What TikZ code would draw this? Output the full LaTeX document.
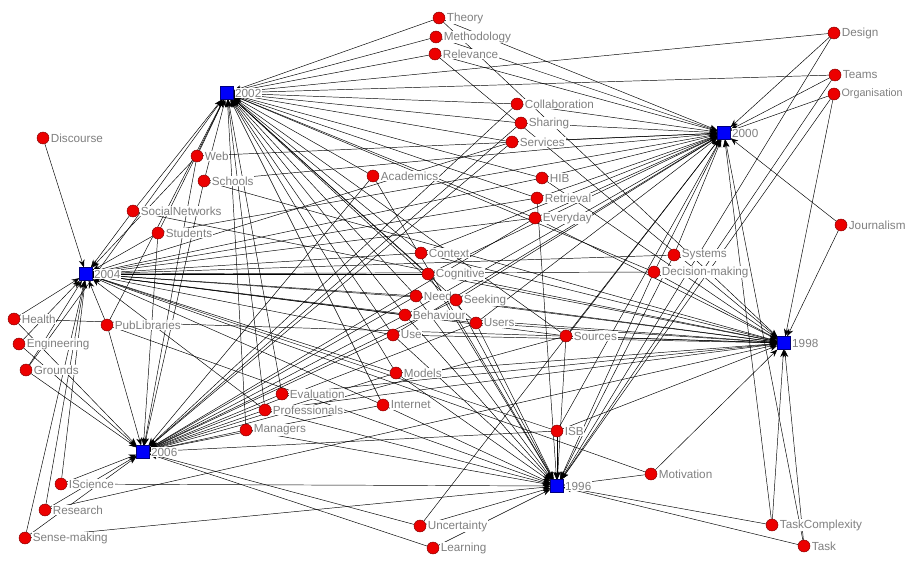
\documentclass[tikz,border=0pt]{standalone}
\usepackage{fontspec}
\setmainfont{Liberation Sans}
\usetikzlibrary{arrows.meta,backgrounds}
\definecolor{topicred}{RGB}{236,0,0}
\definecolor{yearblue}{RGB}{0,0,250}
\definecolor{labelgray}{RGB}{128,128,128}

\begin{document}
\begin{tikzpicture}[x=0.03cm,y=-0.03cm,>={Stealth[length=2.3mm,width=1.7mm]},
  topic/.style={circle,fill=topicred,draw=topicred!55!black,line width=0.4pt,inner sep=0pt,minimum size=0.36cm},
  year/.style={rectangle,fill=yearblue,draw=yearblue!50!black,line width=0.4pt,inner sep=0pt,minimum size=0.38cm},
  every label/.style={text=labelgray,fill=white,font=\fontsize{10}{11}\selectfont,inner sep=0.6pt},
  label distance=0.6pt]
  \useasboundingbox (0,0) rectangle (906,564);

  % years
  \node[year,label=right:2002] (y2002) at (227,93) {};
  \node[year,label=right:2000] (y2000) at (724,133) {};
  \node[year,label=right:2004] (y2004) at (86,274) {};
  \node[year,label=right:1998] (y1998) at (784,343) {};
  \node[year,label=right:2006] (y2006) at (143,452) {};
  \node[year,label=right:1996] (y1996) at (557,486) {};

  % topics
  \node[topic,label=right:Theory] (theory) at (439,18) {};
  \node[topic,label=right:Methodology] (method) at (436,37) {};
  \node[topic,label=right:Relevance] (relevance) at (435,54) {};
  \node[topic,label=right:Design] (design) at (834,33) {};
  \node[topic,label=right:Teams] (teams) at (835,75) {};
  \node[topic,label={[font=\fontsize{9.2}{11}\selectfont,inner sep=0.3pt]right:Organisation}] (organisation) at (834,94) {};
  \node[topic,label=right:Collaboration] (collab) at (517,104) {};
  \node[topic,label=right:Sharing] (sharing) at (521,123) {};
  \node[topic,label=right:Services] (services) at (512,142) {};
  \node[topic,label=right:Discourse] (discourse) at (43,138) {};
  \node[topic,label=right:Web] (web) at (197,156) {};
  \node[topic,label=right:Schools] (schools) at (204,181) {};
  \node[topic,label=right:Academics] (academics) at (373,176) {};
  \node[topic,label=right:HIB] (hib) at (542,178) {};
  \node[topic,label=right:Retrieval] (retrieval) at (537,198) {};
  \node[topic,label=right:Everyday] (everyday) at (535,218) {};
  \node[topic,label=right:SocialNetworks] (social) at (133,211) {};
  \node[topic,label=right:Students] (students) at (158,233) {};
  \node[topic,label=right:Journalism] (journalism) at (841,225) {};
  \node[topic,label=right:Context] (context) at (421,253) {};
  \node[topic,label=right:Systems] (systems) at (674,255) {};
  \node[topic,label=right:Cognitive] (cognitive) at (428,274) {};
  \node[topic,label=right:Decision-making] (decision) at (654,272) {};
  \node[topic,label=right:Needs] (needs) at (416,296) {};
  \node[topic,label=right:Seeking] (seeking) at (456,300) {};
  \node[topic,label=right:Behaviour] (behaviour) at (405,315) {};
  \node[topic,label=right:Users] (users) at (476,323) {};
  \node[topic,label=right:Health] (health) at (14,319) {};
  \node[topic,label=right:PubLibraries] (publib) at (107,325) {};
  \node[topic,label=right:Use] (use) at (393,335) {};
  \node[topic,label=right:Sources] (sources) at (566,336) {};
  \node[topic,label=right:Engineering] (engineering) at (19,344) {};
  \node[topic,label=right:Grounds] (grounds) at (26,370) {};
  \node[topic,label=right:Models] (models) at (396,373) {};
  \node[topic,label=right:Evaluation] (evaluation) at (282,394) {};
  \node[topic,label=right:Internet] (internet) at (383,405) {};
  \node[topic,label=right:Professionals] (professionals) at (265,410) {};
  \node[topic,label=right:ISB] (isb) at (557,431) {};
  \node[topic,label=right:Managers] (managers) at (246,430) {};
  \node[topic,label=right:Motivation] (motivation) at (651,474) {};
  \node[topic,label=right:IScience] (iscience) at (61,484) {};
  \node[topic,label=right:Research] (research) at (45,510) {};
  \node[topic,label=right:TaskComplexity] (taskcomplex) at (772,525) {};
  \node[topic,label=right:Uncertainty] (uncertainty) at (420,526) {};
  \node[topic,label=right:Sense-making] (sensemaking) at (25,538) {};
  \node[topic,label=right:Learning] (learning) at (433,548) {};
  \node[topic,label=right:Task] (task) at (804,546) {};

  % ties from each topic to the years it appears in
  \begin{scope}[on background layer,line width=0.45pt]
  \foreach \t/\ys in {
      theory/{y2002,y2000,y1998}, method/{y2002,y2000}, relevance/{y2002,y2000,y1998},
      design/{y2002,y2000,y1996}, teams/{y2002,y2000,y1996}, organisation/{y2000,y1996,y1998},
      collab/{y2002,y2000,y2006}, sharing/{y2002,y2000,y2006}, services/{y2002,y2000,y2004,y2006},
      discourse/{y2004}, web/{y2002,y2004,y2000,y2006}, schools/{y2002,y2006,y2000,y1998},
      academics/{y2002,y1996,y2006}, hib/{y2002,y2000,y2004,y1998}, retrieval/{y2002,y2000,y2004,y1996},
      everyday/{y2002,y2000,y2004,y1998,y2006}, social/{y2004,y2002,y1998}, students/{y2004,y2002,y2006,y2000},
      journalism/{y2000,y1998}, context/{y2002,y2004,y2000,y1998}, systems/{y2004,y2000,y1996},
      cognitive/{y2002,y2004,y2000,y1998,y1996}, decision/{y2002,y2004,y2000,y1996,y1998},
      needs/{y2002,y2004,y1998,y2006,y1996}, seeking/{y2002,y2004,y2000,y1998,y1996,y2006},
      behaviour/{y2002,y2004,y2000,y1998,y1996,y2006}, users/{y2002,y2004,y2000,y1996,y1998,y2006},
      health/{y2004,y2006,y1998}, publib/{y2004,y2006,y2002,y1996},
      use/{y2002,y2004,y1998,y1996,y2006,y2000}, sources/{y2002,y2004,y2000,y1998,y1996,y2006},
      engineering/{y2004,y2006}, grounds/{y2004,y2006,y2002}, models/{y2002,y2004,y1998,y1996,y2006},
      evaluation/{y2002,y2006,y1998}, internet/{y2002,y2004,y1996,y2006},
      professionals/{y2002,y2004,y1996,y1998,y2006}, isb/{y2004,y2000,y1996,y1998,y2006},
      managers/{y2002,y2006,y1996}, motivation/{y2004,y1998,y1996}, iscience/{y2006,y2004,y1996},
      research/{y2006,y2004,y1998}, taskcomplex/{y2000,y1998,y1996}, uncertainty/{y2006,y1996,y2000},
      sensemaking/{y2004,y2006,y1996}, learning/{y2006,y1996}, task/{y1998,y2000,y1996}}
    \foreach \y in \ys
      \draw[->] (\t) -- (\y);
  \end{scope}
\end{tikzpicture}
\end{document}
